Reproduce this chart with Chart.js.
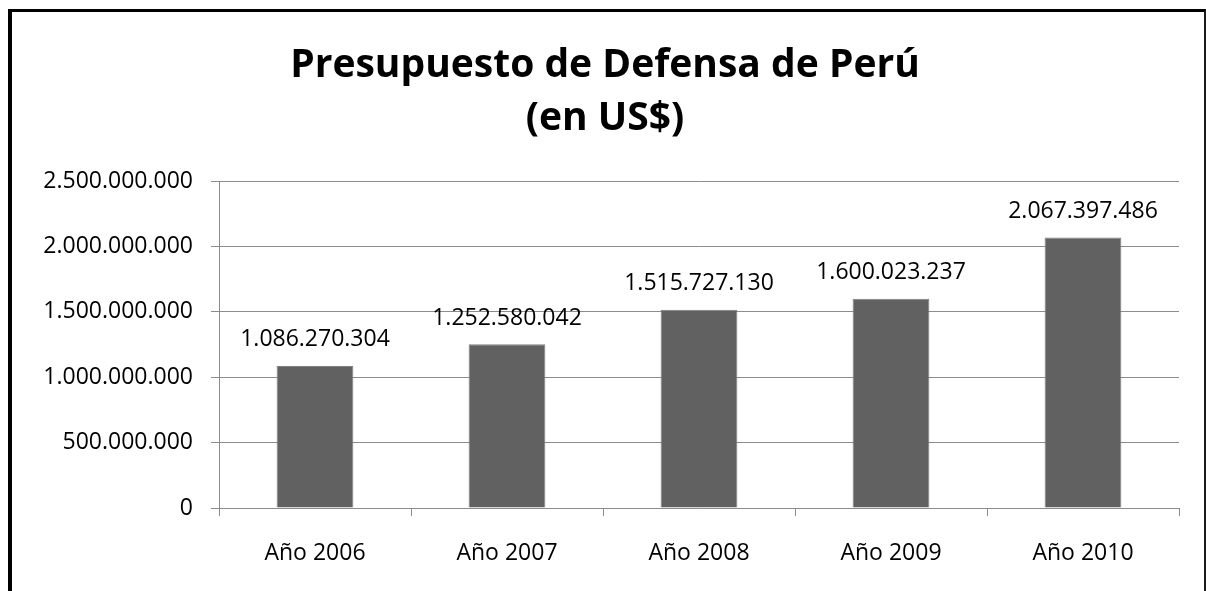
<!DOCTYPE html>
<html>
<head>
<meta charset="utf-8">
<script src="https://cdn.jsdelivr.net/npm/chart.js@4.4.0/dist/chart.umd.min.js"></script>
<style>
  html, body { margin: 0; padding: 0; background: #fff; overflow: hidden; }
  #wrap { position: relative; width: 1206px; height: 591px; }
  #c { position: absolute; left: 0; top: 0; }
  #frame { position: absolute; left: 8px; top: 9px; width: 1192px; height: 600px;
           border-left: 4px solid #000; border-top: 3px solid #000; border-right: 2px solid #1a1a1a;
           pointer-events: none; }
</style>
</head>
<body>
<div id="wrap">
  <canvas id="c" width="1206" height="591"></canvas>
  <div id="frame"></div>
</div>
<script>
const titleLines = ["Presupuesto de Defensa de Perú", "(en US$)"];
const categories = ["Año 2006", "Año 2007", "Año 2008", "Año 2009", "Año 2010"];
const budgetValues = [1086270304, 1252580042, 1515727130, 1600023237, 2067397486];
const yTickValues = [0, 500000000, 1000000000, 1500000000, 2000000000, 2500000000];

const FONT = "'Open Sans', 'Liberation Sans', sans-serif";

function fmt(v) {
  return Math.round(v).toString().replace(/\B(?=(\d{3})+(?!\d))/g, ".");
}

const chartTitle = {
  id: 'chartTitle',
  afterDraw(chart) {
    const ctx = chart.ctx;
    ctx.save();
    ctx.font = "bold 39px " + FONT;
    ctx.fillStyle = "#000";
    ctx.textAlign = "center";
    ctx.textBaseline = "alphabetic";
    ctx.fillText(titleLines[0], 605, 77);
    ctx.fillText(titleLines[1], 605, 130);
    ctx.restore();
  }
};

const valueLabels = {
  id: 'valueLabels',
  afterDatasetsDraw(chart) {
    const ctx = chart.ctx;
    const meta = chart.getDatasetMeta(0);
    ctx.save();
    ctx.font = "23px " + FONT;
    ctx.fillStyle = "#000";
    ctx.textAlign = "center";
    ctx.textBaseline = "middle";
    meta.data.forEach((bar, i) => {
      ctx.fillText(fmt(chart.data.datasets[0].data[i]), bar.x, bar.y - 26);
    });
    ctx.restore();
  }
};

new Chart(document.getElementById('c'), {
  type: 'bar',
  data: {
    labels: categories,
    datasets: [{
      data: budgetValues,
      backgroundColor: '#616161',
      borderColor: '#7f7f7f',
      borderWidth: 1,
      barPercentage: 0.4,
      categoryPercentage: 1.0
    }]
  },
  options: {
    responsive: false,
    devicePixelRatio: 1,
    animation: false,
    layout: { padding: { left: 0, right: 27, top: 181, bottom: 0 } },
    plugins: {
      legend: { display: false },
      tooltip: { enabled: false },
      title: { display: false }
    },
    scales: {
      x: {
        grid: { display: true, drawOnChartArea: false, drawTicks: true, tickLength: 8, color: '#8c8c8c', offset: true },
        border: { display: true, color: '#8c8c8c', width: 1 },
        ticks: { color: '#000', font: { family: FONT, size: 23 }, padding: 24 },
        afterFit(scale) { scale.height = 83; }
      },
      y: {
        min: 0,
        max: 2500000000,
        afterBuildTicks(scale) { scale.ticks = yTickValues.map(v => ({ value: v })); },
        grid: { color: '#8c8c8c', drawTicks: true, tickLength: 8 },
        border: { display: true, color: '#8c8c8c', width: 1 },
        ticks: { color: '#000', font: { family: FONT, size: 23 }, padding: 18, callback: v => fmt(v) },
        afterFit(scale) { scale.width = 219; }
      }
    }
  },
  plugins: [valueLabels, chartTitle]
});
</script>
</body>
</html>
